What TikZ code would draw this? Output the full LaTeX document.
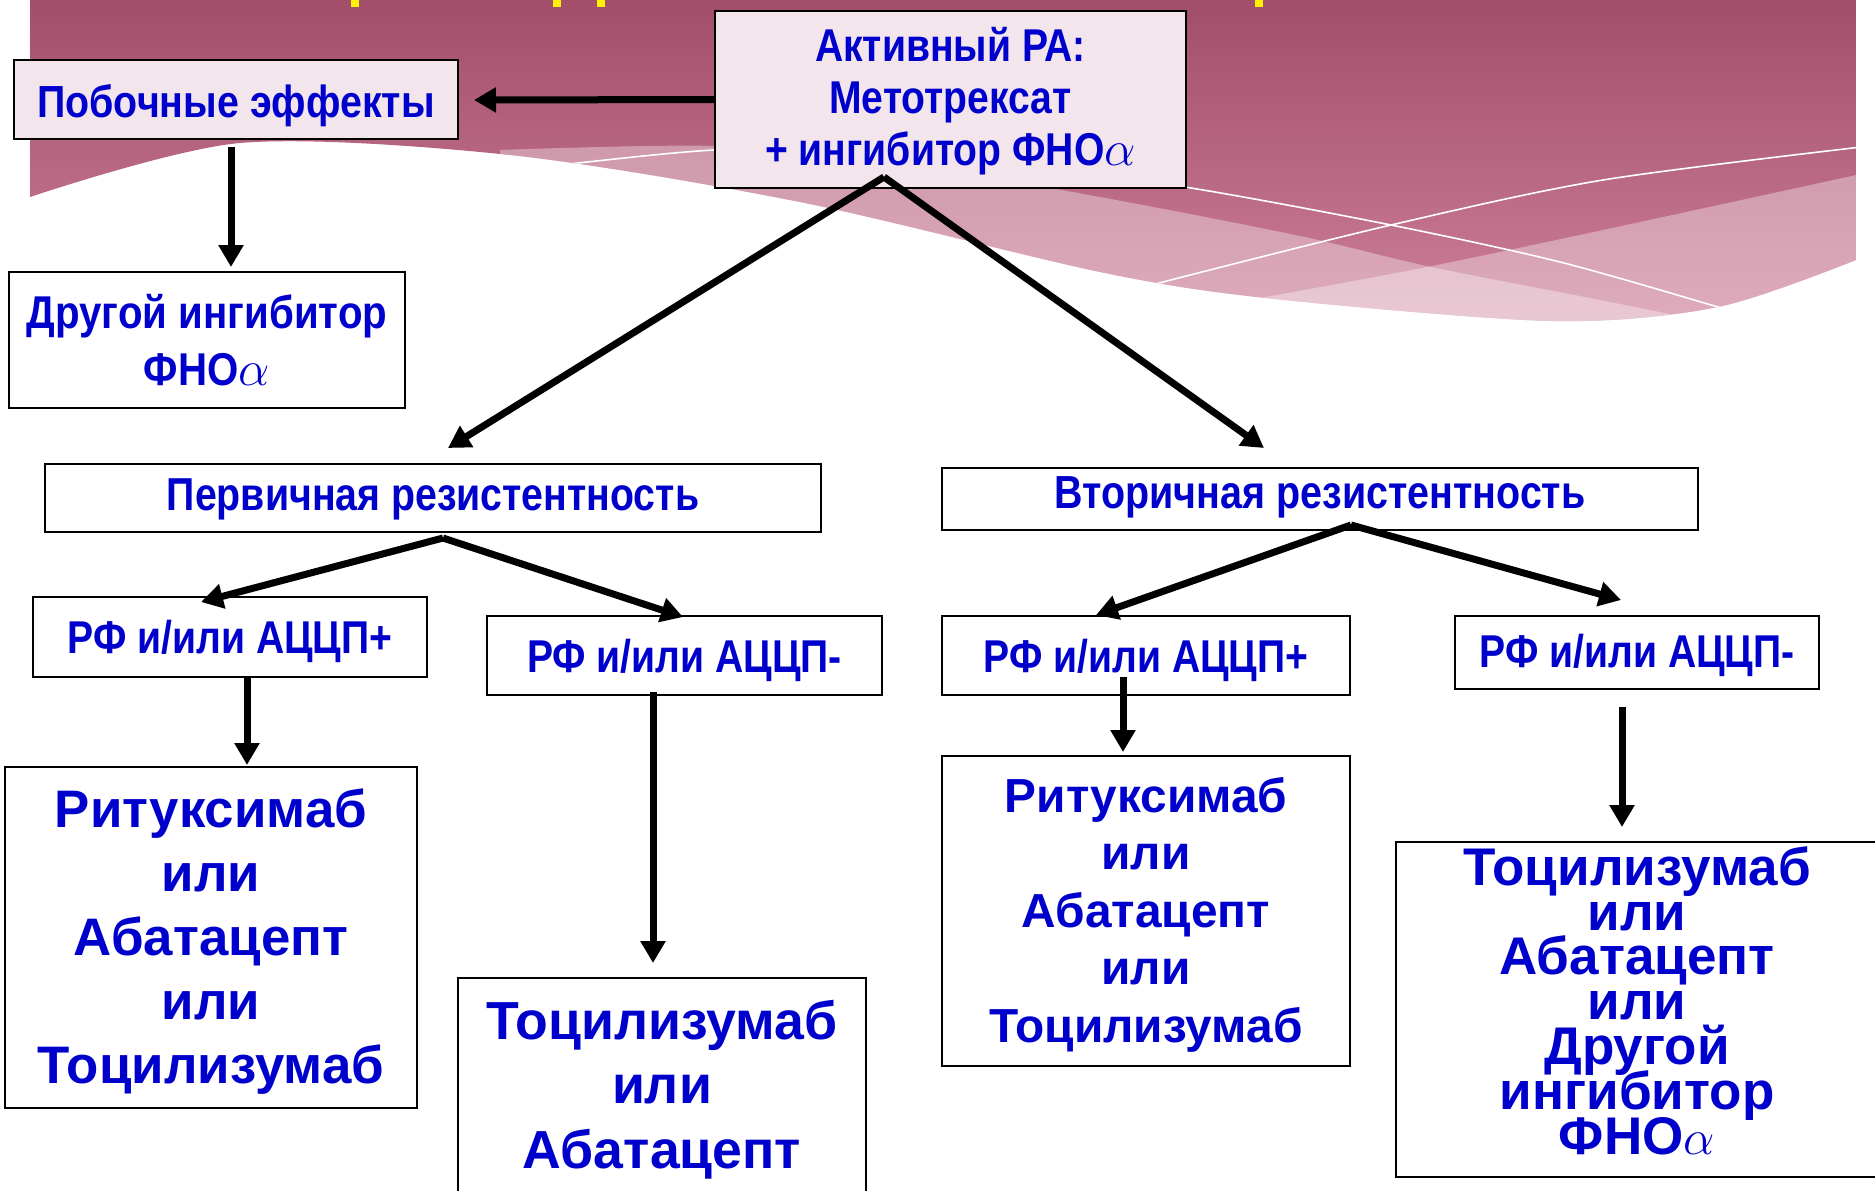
\documentclass[tikz,border=0pt]{standalone}
\usepackage{fontspec}
\setmainfont{Liberation Sans}
\newfontfamily\narr{Liberation Sans}[FakeStretch=0.85]
\newfontfamily\narrw{Liberation Sans}[FakeStretch=0.875]
\usetikzlibrary{arrows.meta,calc}
\definecolor{txtblue}{RGB}{0,0,204}
\definecolor{boxpink}{RGB}{243,229,236}
\definecolor{bgtop}{RGB}{162,78,106}
\definecolor{bgbot}{RGB}{206,128,154}
\newcommand\stk[1]{\vbox{\lineskiplimit=-\maxdimen\halign{\hfil##\hfil\cr#1\crcr}}}
\newcommand\fsz[2]{\fontsize{#1}{#2}\selectfont}
\tikzset{
  box/.style={draw=black, line width=1pt, fill=white, inner sep=0pt, outer sep=0pt, text=txtblue, text depth=0pt},
  pbox/.style={box, fill=boxpink},
  nartxt/.style={font=\narr\bfseries\fsz{23}{28}},
  arr/.style={line width=3.5pt, -{Triangle[length=11pt,width=12pt]}},
  wline/.style={white, line width=0.8pt}
}
\begin{document}
\begin{tikzpicture}[x=0.5pt,y=-0.5pt]
\useasboundingbox (0,0) rectangle (1875,1190);
\fill[white] (0,0) rectangle (1875,1190);
% background wave
\begin{scope}
\clip (30,0) -- (1856,0) -- plot[smooth] coordinates {(1856,260) (1718,307) (1552,321) (1266,298) (1100,272) (800,202) (510,155) (240,143) (30,197)} -- cycle;
\shade[top color=bgtop, bottom color=bgbot] (30,0) rectangle (1862,330);
\fill[white, opacity=0.35] plot[smooth] coordinates {(500,150) (714,146) (900,163) (1100,197) (1300,236) (1431,267) (1600,300) (1720,325) (1760,340)} -- (1760,400) -- (500,400) -- cycle;
\fill[white, opacity=0.35] plot[smooth] coordinates {(1200,309) (1266,297) (1422,268) (1603,230) (1870,172)} -- (1870,400) -- (1200,400) -- cycle;
\draw[wline] plot[smooth] coordinates {(540,168) (587,162) (714,150) (850,149) (1000,162) (1191,188) (1391,225) (1560,262) (1718,307) (1760,320)};
\draw[wline] plot[smooth] coordinates {(1100,300) (1163,282) (1391,225) (1603,180) (1870,146)};
\end{scope}
% yellow remnants of title
\fill[yellow] (351,0) rectangle (359,7);
\fill[yellow] (553,0) rectangle (561,7);
\fill[yellow] (597,0) rectangle (605,7);
\fill[yellow] (1255,0) rectangle (1263,7);
% nodes
\node[pbox, font=\narr\bfseries\fsz{23}{26}, minimum width=235.5pt, minimum height=88.5pt, text height=65.5pt] (act) at (950.5,99.5)
  {\stk{Активный РА:\cr Метотрексат\cr + ингибитор ФНО$\alpha$}};
\node[pbox, font=\narrw\bfseries\fsz{22.5}{27}, minimum width=222pt, minimum height=39.5pt, text height=17.5pt] (pobo) at (236,99.5)
  {Побочные эффекты};
\node[box, font=\narrw\bfseries\fsz{23}{28.5}, minimum width=198pt, minimum height=68pt, text height=45pt] (drug) at (207,340)
  {\stk{Другой ингибитор\cr ФНО$\alpha$}};
\node[box, font=\narr\bfseries\fsz{23.1}{28}, minimum width=388pt, minimum height=34pt, text height=12pt] (prim) at (433,498)
  {Первичная резистентность};
\node[box, font=\narr\bfseries\fsz{23.2}{28}, minimum width=378pt, minimum height=31pt, text height=9pt] (sec) at (1320,499)
  {Вторичная резистентность};
\node[box, nartxt, minimum width=197pt, minimum height=40pt, text height=16pt] (p1) at (230,637)
  {РФ и/или АЦЦП+};
\node[box, nartxt, minimum width=197.5pt, minimum height=39.5pt, text height=16.5pt] (p2) at (684.5,655.5)
  {РФ и/или АЦЦП-};
\node[box, nartxt, minimum width=204pt, minimum height=39.5pt, text height=16.5pt] (s1) at (1146,655.5)
  {РФ и/или АЦЦП+};
\node[box, nartxt, minimum width=182pt, minimum height=36.5pt, text height=14.5pt] (s2) at (1637,652.5)
  {РФ и/или АЦЦП-};
\node[box, font=\bfseries\fsz{26.4}{32}, minimum width=206pt, minimum height=170.5pt, text height=145.5pt] (p1r) at (211,937.5)
  {\stk{Ритуксимаб\cr или\cr Абатацепт\cr или\cr Тоцилизумаб}};
\node[box, font=\bfseries\fsz{26.8}{32.25}, minimum width=204pt, minimum height=113pt, text height=77pt] (p2r) at (662,1091)
  {\stk{Тоцилизумаб\cr или\cr Абатацепт}};
\node[box, font=\bfseries\fsz{23.9}{28.75}, minimum width=204pt, minimum height=155pt, text height=131pt] (s1r) at (1146,911)
  {\stk{Ритуксимаб\cr или\cr Абатацепт\cr или\cr Тоцилизумаб}};
\node[box, font=\bfseries\fsz{26.5}{22.4}, minimum width=241pt, minimum height=167.5pt, text height=144.5pt] (s2r) at (1637,1009.5)
  {\stk{Тоцилизумаб\cr или\cr Абатацепт\cr или\cr Другой\cr ингибитор\cr ФНО$\alpha$}};
% connector ends
\coordinate (actApex) at (884,177);
\coordinate (primTip) at (448,448);
\coordinate (secTip) at (1264,448);
\coordinate (poboTip) at (474,100);
\coordinate (drugFrom) at (231,147);
\coordinate (drugTip) at (231,267);
\coordinate (primApex) at (443,538);
\coordinate (p1Tip) at (201,602);
\coordinate (p2Tip) at (683,617);
\coordinate (secApex) at (1351,525);
\coordinate (s1Tip) at (1096,615);
\coordinate (s2Tip) at (1621,600);
\coordinate (p1From) at (247,677);
\coordinate (p1rTip) at (247,765);
\coordinate (p2From) at (653,692);
\coordinate (p2rTip) at (653,963);
\coordinate (s1From) at (1123,677);
\coordinate (s1rTip) at (1123,752);
\coordinate (s2From) at (1622,707);
\coordinate (s2rTip) at (1622,827);
% connectors
\draw[arr] (act.west) -- (poboTip);
\draw[arr] (drugFrom) -- (drugTip);
\draw[arr] (actApex) -- (primTip);
\draw[arr] (actApex) -- (secTip);
\draw[arr] (primApex) -- (p1Tip);
\draw[arr] (primApex) -- (p2Tip);
\draw[arr] (secApex) -- (s1Tip);
\draw[arr] (secApex) -- (s2Tip);
\draw[arr] (p1From) -- (p1rTip);
\draw[arr] (p2From) -- (p2rTip);
\draw[arr] (s1From) -- (s1rTip);
\draw[arr] (s2From) -- (s2rTip);
\end{tikzpicture}
\end{document}
